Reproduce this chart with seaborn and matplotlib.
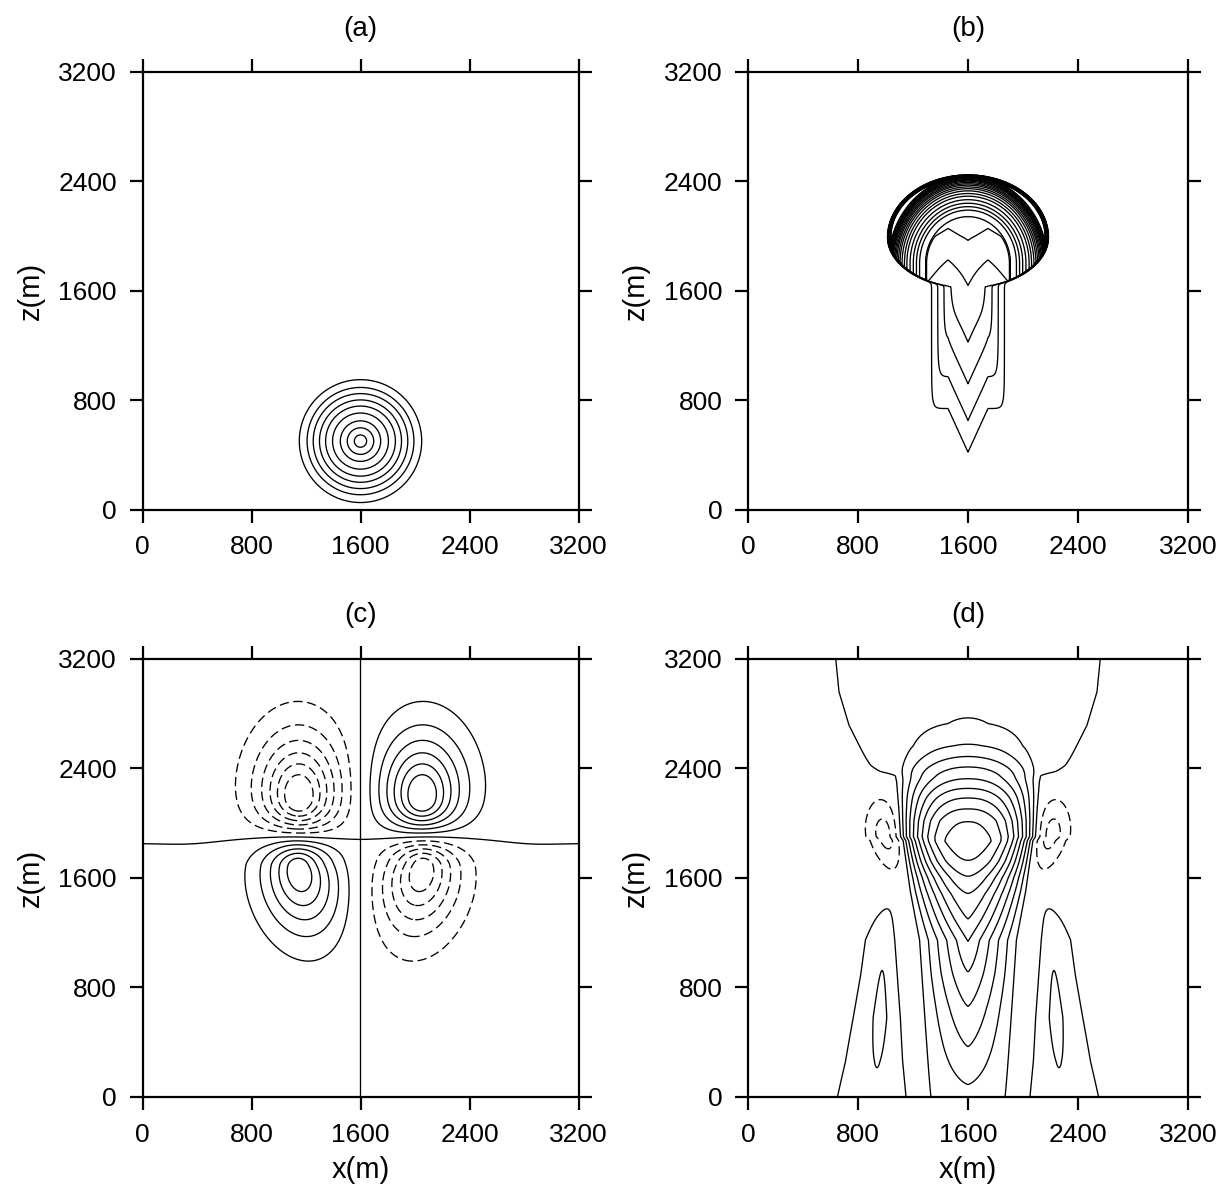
import numpy as np
import matplotlib
matplotlib.use("Agg")
import matplotlib.pyplot as plt
import seaborn as sns

sns.set_theme(style="ticks")
plt.rcParams['font.family'] = ['Liberation Sans', 'DejaVu Sans']
for key in ['text.color', 'axes.labelcolor', 'xtick.color', 'ytick.color', 'axes.edgecolor']:
    plt.rcParams[key] = 'black'

# ---------------- data ----------------
AXIS_TICKS = [0, 800, 1600, 2400, 3200]
PANEL_TITLES = ["(a)", "(b)", "(c)", "(d)"]
X_LABEL = "x(m)"
Z_LABEL = "z(m)"

# (a) initial bubble: concentric rings (radius in m)
A_CENTER = [1600, 500]
A_RING_RADII = [45, 97, 148, 205, 256, 301, 347, 392, 449]

# (b) mushroom cloud
B_CAP_CENTER_Z = 1990
B_CAP_HALF_WIDTH = 585
B_CAP_SEMI_UP = 455
B_CAP_SEMI_DOWN = 370
B_STEM_HALF_WIDTH = 265
B_SHELL_BASE_Z = 1800
B_VORTEX_DX = 505
B_VORTEX_Z = 1960
B_TIP_Z = [200, 419, 651, 919, 1224, 1638, 1967, 2200]
B_TIP_LEVEL = [0, 1, 2, 3, 4, 5, 6, 6.6]
B_VEE_Z = [0, 1300, 1700, 2000, 2400]
B_VEE_SLOPE = [2.2, 2.2, 1.77, 0.6, 0.6]
B_SHELL_RHO = [0.45, 0.526, 0.602, 0.641, 0.68, 0.72, 0.76, 0.79, 0.82, 0.845, 0.865,
               0.885, 0.90, 0.915, 0.93, 0.94, 0.95, 0.96, 0.97, 0.98, 0.99, 1.0]
B_SHELL_LEVEL = [0, 7, 8, 9, 10, 11, 12, 13, 14, 15, 16,
                 17, 18, 19, 20, 21, 22, 23, 24, 25, 26, 27]
B_LEVELS = list(range(1, 27))

# (c) quadrupole (right-hand lobes; left side is mirrored with opposite sign)
C_LOBE_DX = [451, 457]
C_LOBE_Z = [2160, 1700]
C_LOBE_AMP = [8.3, -7.4]
C_LOBE_LX = [295, 285]
C_LOBE_LZ_UP = [440, 280]
C_LOBE_LZ_DOWN = [330, 450]
C_LOBE_P = [1.5, 1.5]
C_LOBE_TILT = [0.0, 0.13]
C_ZERO_Z = 1850
C_LEVELS = [-6, -5, -4, -3, -2, -1, 0, 1, 2, 3, 4, 5, 6]

# (d) plume
D_CENTER_Z = [0, 359, 654, 907, 1131, 1294, 1482, 1608, 1721, 1868, 2015, 2105,
              2184, 2254, 2324, 2403, 2479, 2563, 2725, 3200]
D_CENTER_W = [0.7, 2, 3, 4, 5, 6, 7, 8, 9, 9.7, 9, 8, 7, 6, 5, 4, 3, 2, 1, 0.2]
D_EDGE_Z = [0, 1146, 1500, 1870, 1900, 2108, 2299, 2400, 3200]
D_EDGE_HW = [278, 354, 420, 472, 491, 504, 520, 540, 560]
D_SHAPE_Z = [0, 900, 1146, 1600, 1868, 2200, 2500, 3200]
D_SHAPE_M = [1.35, 1.3, 1.1, 1.8, 2.6, 2.4, 2.0, 2.0]
D_WAKE_Z = [2340, 2353, 2372, 2421, 2567, 2713, 2957, 3200]
D_WAKE_HW = [520, 564, 661, 710, 782, 855, 928, 952]
D_LOOP_Z = 1920
D_TONGUE_Z = [0, 263, 580, 896, 1146, 1459]
D_TONGUE_DX = [673, 660, 640, 625, 618, 560]
D_TONGUE_HW = [150, 122, 100, 82, 70, 40]
D_TONGUE_AMP = [0.9, 1.06, 1.32, 1.06, 0.85, 0.0]
D_LEVELS = [-2, -1, 0, 1, 2, 3, 4, 5, 6, 7, 8, 9]

# ---------------- grid ----------------
xg = np.linspace(0, 3200, 801)
zg = np.linspace(0, 3200, 801)
X, Z = np.meshgrid(xg, zg)
DX = X - 1600.0
ADX = np.abs(DX)

def sig(v):
    return 1.0 / (1.0 + np.exp(-np.clip(v, -60, 60)))

def softmin(a, b, k):
    return -k * np.logaddexp(-a / k, -b / k)

def softmax(a, b, k):
    return k * np.logaddexp(a / k, b / k)

# (a)
field_a = np.hypot(X - A_CENTER[0], Z - A_CENTER[1])

# (b)
az = np.where(Z >= B_CAP_CENTER_Z, B_CAP_SEMI_UP, B_CAP_SEMI_DOWN)
rho = np.sqrt((DX / B_CAP_HALF_WIDTH) ** 2 + ((Z - B_CAP_CENTER_Z) / az) ** 2)
gap = 1 - rho
r_cap = np.where(gap > 0, 31 * (np.clip(gap, 0, None) / 0.05) ** 0.8, gap * 60)
r_cap = r_cap - 14.0 * np.exp(-((ADX - B_VORTEX_DX) / 28.0) ** 2 - ((Z - B_VORTEX_Z) / 55.0) ** 2)
r_stem = softmin(1 + (B_STEM_HALF_WIDTH - ADX) / 45.0, (2000 - Z) / 5.0, 0.5)
R_b = softmax(r_cap, r_stem, 1.2)
slope_b = np.interp(Z, B_VEE_Z, B_VEE_SLOPE)
blend = sig((Z - 1550) / 60.0)
s_b = slope_b * np.minimum(ADX, 145) - blend * slope_b * np.clip(ADX - 145, 0, None)
I_v = np.interp(Z - s_b, B_TIP_Z, B_TIP_LEVEL)
top_semi = B_CAP_CENTER_Z + B_CAP_SEMI_UP - B_SHELL_BASE_Z
rho2 = np.sqrt((DX / B_CAP_HALF_WIDTH) ** 2 +
               (np.clip(Z - B_SHELL_BASE_Z, 0, None) / top_semi) ** 2)
I_cap = np.interp(rho2, B_SHELL_RHO, B_SHELL_LEVEL)
I_b = softmax(I_v, I_cap, 0.15)
field_b = softmin(I_b, R_b, 0.35)

# (c)
def lobes(dxv, z):
    tot = np.zeros_like(z)
    for i in range(len(C_LOBE_DX)):
        lz = np.where(z >= C_LOBE_Z[i], C_LOBE_LZ_UP[i], C_LOBE_LZ_DOWN[i])
        cx = C_LOBE_DX[i] - C_LOBE_TILT[i] * np.clip(C_LOBE_Z[i] - z, 0, None)
        r = np.sqrt(((dxv - cx) / C_LOBE_LX[i]) ** 2 + ((z - C_LOBE_Z[i]) / lz) ** 2)
        tot += C_LOBE_AMP[i] * np.exp(-r ** C_LOBE_P[i])
    return tot

field_c = lobes(DX, Z) - lobes(-DX, Z) + 0.02 * np.tanh(DX / 60) * np.tanh((Z - C_ZERO_Z) / 60)

# (d)
wc = np.interp(Z, D_CENTER_Z, D_CENTER_W)
hw = np.interp(Z, D_EDGE_Z, D_EDGE_HW)
mm = np.interp(Z, D_SHAPE_Z, D_SHAPE_M)
s = ADX / hw
inside = wc * (1 - np.clip(s, 0, 1) ** mm)
t = np.clip(s - 1, 0, None)
kz = 13.0 * np.exp(-((Z - D_LOOP_Z) / 235.0) ** 2) + 2.5 * sig((2250 - Z) / 40)
collar = kz * t * np.exp(-0.5 * (t / 0.25) ** 2)
wake_hw = np.interp(Z, D_WAKE_Z, D_WAKE_HW)
wake = 0.1 * sig((Z - 2345) / 10) * sig((wake_hw - ADX) / 12)
t_amp = np.interp(Z, D_TONGUE_Z, D_TONGUE_AMP)
t_dx = np.interp(Z, D_TONGUE_Z, D_TONGUE_DX)
t_hw = np.interp(Z, D_TONGUE_Z, D_TONGUE_HW)
tongue = t_amp * np.exp(-((ADX - t_dx) / t_hw) ** 2)
field_d = inside - collar + wake + tongue - 0.03

# ---------------- figure ----------------
W, H = 1221, 1192
fig = plt.figure(figsize=(W / 100, H / 100), dpi=100)
cols = [(142.5, 436), (748, 440)]
rows = [(71.7, 437.8), (658.5, 438.5)]

def lstyles(levels):
    return ['solid' if lv >= 0 else (0, (7, 3.5)) for lv in levels]

panels = [
    (field_a, A_RING_RADII),
    (field_b, B_LEVELS),
    (field_c, C_LEVELS),
    (field_d, D_LEVELS),
]

for k, (fld, lev) in enumerate(panels):
    r, c = divmod(k, 2)
    x0, wpx = cols[c]
    y0, hpx = rows[r]
    ax = fig.add_axes([x0 / W, 1 - (y0 + hpx) / H, wpx / W, hpx / H])
    ls = lstyles(lev) if k >= 2 else 'solid'
    ax.contour(xg, zg, fld, levels=lev, colors='black', linewidths=0.95, linestyles=ls)
    ax.set_xlim(0, 3200)
    ax.set_ylim(0, 3200)
    ax.set_xticks(AXIS_TICKS)
    ax.set_yticks(AXIS_TICKS)
    ax.set_xticklabels([str(v) for v in AXIS_TICKS])
    ax.set_yticklabels([str(v) for v in AXIS_TICKS])
    ax.tick_params(axis='both', which='major', direction='out', length=9.5, width=1.6,
                   top=True, right=True, labeltop=False, labelright=False,
                   labelsize=19, colors='black')
    ax.tick_params(axis='y', pad=9)
    ax.tick_params(axis='x', pad=9)
    for sp in ax.spines.values():
        sp.set_linewidth(1.6)
        sp.set_color('black')
        sp.set_visible(True)
    cx = (x0 + wpx / 2) / W
    fig.text(cx, 1 - (y0 - 43) / H, PANEL_TITLES[k], ha='center', va='center', fontsize=20)
    fig.text((x0 - 112) / W, 1 - (y0 + hpx / 2) / H, Z_LABEL, ha='center', va='center',
             rotation=90, fontsize=21)
    if r == 1:
        fig.text(cx, 1 - (y0 + hpx + 73) / H, X_LABEL, ha='center', va='center', fontsize=21)

fig.savefig("out.png", dpi=100)
